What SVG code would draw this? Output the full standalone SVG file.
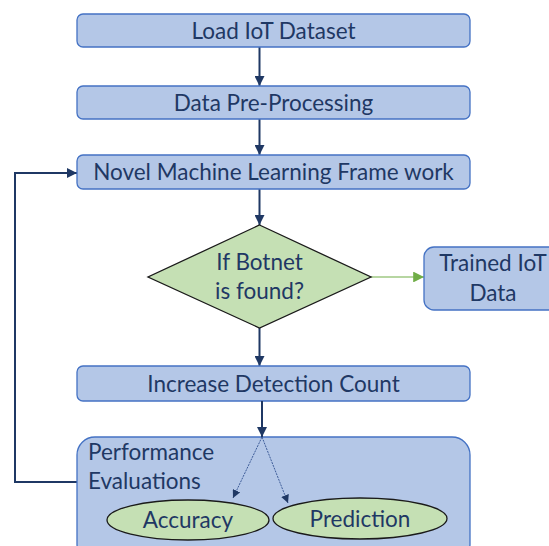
<svg xmlns="http://www.w3.org/2000/svg" width="549" height="546" viewBox="0 0 549 546">
<style>
.box{fill:#b4c7e7;stroke:#4472c4;stroke-width:1.3}
.grn{fill:#c5e0b4;stroke:#1a1a1a;stroke-width:1.3}
.t{font-family:Lato,"Liberation Sans",sans-serif;font-size:22.5px;fill:#1f3864}
.c{text-anchor:middle}
.ln{stroke:#1f3864;stroke-width:2;fill:none}
.dl{stroke:#2f4f8f;stroke-width:0.9;fill:none;stroke-dasharray:2 1}
</style>
<defs>
<marker id="ah" viewBox="0 0 10 10" refX="10" refY="5" markerWidth="5" markerHeight="5" orient="auto" markerUnits="strokeWidth"><path d="M0,0 L10,5 L0,10 z" fill="#1f3864"/></marker>
<marker id="ahs" viewBox="0 0 10 10" refX="10" refY="5" markerWidth="9" markerHeight="9" orient="auto" markerUnits="strokeWidth"><path d="M0,0 L10,5 L0,10 z" fill="#1f3864"/></marker>
<marker id="ahg" viewBox="0 0 10 10" refX="10" refY="5" markerWidth="9" markerHeight="9" orient="auto" markerUnits="strokeWidth"><path d="M0,0 L10,5 L0,10 z" fill="#70ad47"/></marker>
</defs>
<g id="connectors">
<line class="ln" x1="259.5" y1="47" x2="259.5" y2="86" marker-end="url(#ah)"/>
<line class="ln" x1="259.5" y1="119" x2="259.5" y2="155" marker-end="url(#ah)"/>
<line class="ln" x1="259.5" y1="189" x2="259.5" y2="225" marker-end="url(#ah)"/>
<line class="ln" x1="259.5" y1="328" x2="259.5" y2="366" marker-end="url(#ah)"/>
<line x1="371" y1="277" x2="424" y2="277" stroke="#70ad47" stroke-width="1.2" marker-end="url(#ahg)"/>
<polyline class="ln" points="77,482 15,482 15,173 77,173" marker-end="url(#ah)"/>
</g>
<g id="n1"><rect class="box" x="77" y="14" width="393" height="33" rx="6"/><text class="t c" x="273.5" y="39">Load IoT Dataset</text></g>
<g id="n2"><rect class="box" x="77" y="86" width="393" height="33" rx="6"/><text class="t c" x="273.5" y="111">Data Pre-Processing</text></g>
<g id="n3"><rect class="box" x="77" y="155" width="393" height="34" rx="6"/><text class="t c" x="273.5" y="180">Novel Machine Learning Frame work</text></g>
<g id="n4"><polygon class="grn" points="259.5,225 371,277 259.5,328 148,277"/><text class="t c" x="259.5" y="270">If Botnet</text><text class="t c" x="259.5" y="299">is found?</text></g>
<g id="n5"><rect class="box" x="424" y="247" width="140" height="63" rx="10"/><text class="t c" x="493" y="271">Trained IoT</text><text class="t c" x="493" y="301">Data</text></g>
<g id="n6"><rect class="box" x="77" y="366" width="393" height="35" rx="6"/><text class="t c" x="273.5" y="392">Increase Detection Count</text></g>
<g id="n7"><rect class="box" x="77" y="437" width="393" height="125" rx="18"/><text class="t" x="88" y="460">Performance</text><text class="t" x="88" y="489">Evaluations</text></g>
<line class="ln" x1="262" y1="401" x2="262" y2="437" marker-end="url(#ah)"/>
<g id="n8"><ellipse class="grn" cx="188" cy="520" rx="81" ry="20"/><text class="t c" x="188" y="528">Accuracy</text></g>
<g id="n9"><ellipse class="grn" cx="360" cy="518.5" rx="87" ry="20.5"/><text class="t c" x="360" y="527">Prediction</text></g>
<g id="connectors2">
<line class="dl" x1="262" y1="437" x2="233" y2="498" marker-end="url(#ahs)"/>
<line class="dl" x1="262" y1="437" x2="288" y2="503" marker-end="url(#ahs)"/>
</g>
</svg>
